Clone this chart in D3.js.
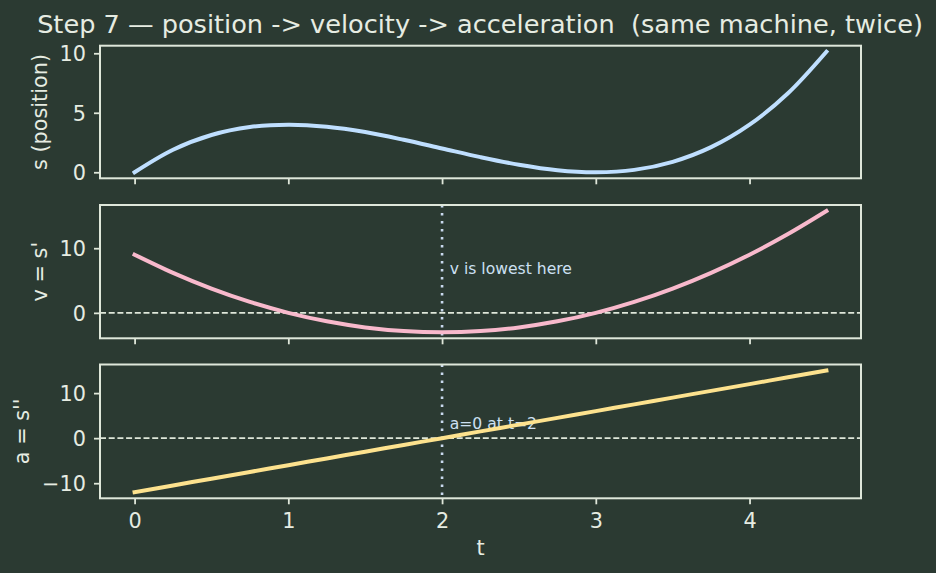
<!DOCTYPE html>
<html>
<head>
<meta charset="utf-8">
<script src="https://cdn.jsdelivr.net/npm/d3@7"></script>
<style>
  html, body { margin: 0; padding: 0; background: #2b3a32; }
  svg { display: block; }
  text { font-family: "DejaVu Sans", sans-serif; }
</style>
</head>
<body>
<svg id="chart" width="936" height="573"></svg>
<script>
// ---- data ----
const tValues = [0, 0.25, 0.5, 0.75, 1, 1.25, 1.5, 1.75, 2, 2.25, 2.5, 2.75, 3, 3.25, 3.5, 3.75, 4, 4.25, 4.5];
const position = [0, 1.89, 3.13, 3.80, 4.00, 3.83, 3.38, 2.73, 2.00, 1.27, 0.63, 0.17, 0, 0.20, 0.88, 2.11, 4.00, 6.64, 10.13];
const velocity = [9, 6.19, 3.75, 1.69, 0, -1.31, -2.25, -2.81, -3, -2.81, -2.25, -1.31, 0, 1.69, 3.75, 6.19, 9, 12.19, 15.75];
const acceleration = [-12, -10.5, -9, -7.5, -6, -4.5, -3, -1.5, 0, 1.5, 3, 4.5, 6, 7.5, 9, 10.5, 12, 13.5, 15];
const xTicks = [0, 1, 2, 3, 4];
const sTicks = [0, 5, 10];
const vTicks = [0, 10];
const aTicks = [-10, 0, 10];
const markT = 2;
const titleText = "Step 7 \u2014 position -> velocity -> acceleration  (same machine, twice)";
const xLabel = "t";
const yLabels = ["s (position)", "v = s'", "a = s''"];
const noteV = { t: 2.05, y: 6, text: "v is lowest here" };
const noteA = { t: 2.05, y: 2, text: "a=0 at t=2" };

// ---- styling ----
const BG = "#2b3a32", FG = "#e6ece2", SPINE = "#dfe7da";
const COLORS = ["#bfdfff", "#f8b9cc", "#fde28e"];
const MARK_COLOR = "#c9d9ee", NOTE_COLOR = "#cde0f2";
const TICK_FS = 20.8, TITLE_FS = 25.6, NOTE_FS = 15.6;

const svg = d3.select("#chart");
svg.append("rect").attr("width", 936).attr("height", 573).attr("fill", BG);

const left = 100, right = 861;
const panels = [
  { top: 45.7, bottom: 178.3, data: position, ticks: sTicks, label: yLabels[0], labelX: 47, zero: false, mark: false },
  { top: 205, bottom: 338.3, data: velocity, ticks: vTicks, label: yLabels[1], labelX: 47, zero: true, mark: true, note: noteV },
  { top: 364.5, bottom: 498.3, data: acceleration, ticks: aTicks, label: yLabels[2], labelX: 29, zero: true, mark: true, note: noteA, xlabels: true }
];

const tMin = d3.min(tValues), tMax = d3.max(tValues);
const tPad = (tMax - tMin) * 0.05;
const x = d3.scaleLinear().domain([tMin - tPad, tMax + tPad]).range([left, right]);

const minus = s => String(s).replace("-", "\u2212");

panels.forEach((p, i) => {
  const lo = d3.min(p.data), hi = d3.max(p.data), pad = (hi - lo) * 0.05;
  const y = d3.scaleLinear().domain([lo - pad, hi + pad]).range([p.bottom, p.top]);
  const g = svg.append("g");

  if (p.zero) {
    g.append("line")
      .attr("x1", left).attr("x2", right)
      .attr("y1", y(0)).attr("y2", y(0))
      .attr("stroke", "#dfe7da").attr("stroke-width", 1.6)
      .attr("stroke-dasharray", "6,2.7");
  }
  if (p.mark) {
    g.append("line")
      .attr("x1", x(markT)).attr("x2", x(markT))
      .attr("y1", p.top).attr("y2", p.bottom)
      .attr("stroke", MARK_COLOR).attr("stroke-width", 2.6)
      .attr("stroke-dasharray", "2.6,5.4");
  }
  if (p.note) {
    g.append("text")
      .attr("x", x(p.note.t)).attr("y", y(p.note.y))
      .attr("fill", NOTE_COLOR).attr("font-size", NOTE_FS)
      .text(p.note.text);
  }
  const line = d3.line()
    .x((d, k) => x(tValues[k]))
    .y(d => y(d))
    .curve(d3.curveCatmullRom);
  g.append("path")
    .attr("d", line(p.data))
    .attr("fill", "none")
    .attr("stroke", COLORS[i])
    .attr("stroke-width", 4)
    .attr("stroke-linecap", "square");

  g.append("rect")
    .attr("x", left).attr("y", p.top)
    .attr("width", right - left).attr("height", p.bottom - p.top)
    .attr("fill", "none").attr("stroke", SPINE).attr("stroke-width", 2);

  const yAxis = d3.axisLeft(y).tickValues(p.ticks).tickSize(6).tickPadding(8).tickFormat(minus);
  const ya = g.append("g").attr("transform", `translate(${left},0)`).call(yAxis);
  ya.select(".domain").remove();
  ya.selectAll(".tick line").attr("stroke", SPINE).attr("stroke-width", 1.8);
  ya.selectAll(".tick text").attr("fill", FG).attr("font-size", TICK_FS)
    .attr("font-family", "DejaVu Sans, sans-serif").attr("dy", "0.36em");

  const xAxis = d3.axisBottom(x).tickValues(xTicks).tickSize(6).tickPadding(9)
    .tickFormat(p.xlabels ? d3.format("d") : "");
  const xa = g.append("g").attr("transform", `translate(0,${p.bottom})`).call(xAxis);
  xa.select(".domain").remove();
  xa.selectAll(".tick line").attr("stroke", SPINE).attr("stroke-width", 1.8);
  xa.selectAll(".tick text").attr("fill", FG).attr("font-size", TICK_FS)
    .attr("font-family", "DejaVu Sans, sans-serif");

  svg.append("text")
    .attr("transform", `translate(${p.labelX},${(p.top + p.bottom) / 2}) rotate(-90)`)
    .attr("text-anchor", "middle")
    .attr("fill", FG).attr("font-size", TICK_FS)
    .text(p.label);
});

svg.append("text")
  .attr("x", (left + right) / 2).attr("y", 555)
  .attr("text-anchor", "middle")
  .attr("fill", FG).attr("font-size", TICK_FS)
  .text(xLabel);

svg.append("text")
  .attr("x", 480).attr("y", 33)
  .attr("text-anchor", "middle")
  .attr("fill", FG).attr("font-size", TITLE_FS)
  .style("white-space", "pre")
  .attr("xml:space", "preserve")
  .text(titleText);
</script>
</body>
</html>
